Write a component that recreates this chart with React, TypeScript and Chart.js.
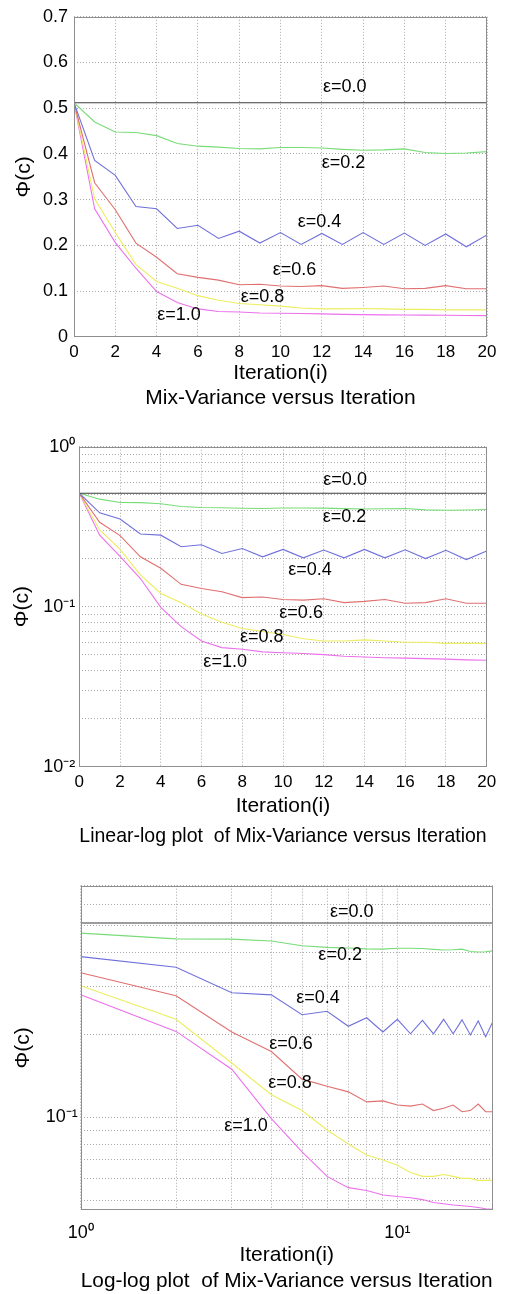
import React, { useEffect, useRef } from "react";
import { Chart, registerables } from "chart.js";

Chart.register(...registerables);

const FONT = "'Liberation Sans', Arial, Helvetica, sans-serif";
Chart.defaults.font.family = FONT;
Chart.defaults.color = "#000";

// ---------- data ----------
const iterations = [0, 1, 2, 3, 4, 5, 6, 7, 8, 9, 10, 11, 12, 13, 14, 15, 16, 17, 18, 19, 20];

const phiEps00 = [0.512, 0.512, 0.512, 0.512, 0.512, 0.512, 0.512, 0.512, 0.512, 0.512, 0.512, 0.512, 0.512, 0.512, 0.512, 0.512, 0.512, 0.512, 0.512, 0.512, 0.512];
const phiEps02 = [0.512, 0.47, 0.448, 0.447, 0.44, 0.423, 0.417, 0.415, 0.412, 0.411, 0.414, 0.414, 0.413, 0.41, 0.408, 0.409, 0.411, 0.403, 0.401, 0.402, 0.405];
const phiEps04 = [0.512, 0.386, 0.353, 0.285, 0.28, 0.237, 0.244, 0.215, 0.231, 0.205, 0.228, 0.202, 0.226, 0.202, 0.228, 0.202, 0.227, 0.2, 0.225, 0.197, 0.223];
const phiEps06 = [0.512, 0.337, 0.278, 0.205, 0.174, 0.138, 0.13, 0.124, 0.114, 0.115, 0.111, 0.11, 0.112, 0.106, 0.108, 0.111, 0.105, 0.106, 0.112, 0.105, 0.105];
const phiEps08 = [0.512, 0.302, 0.228, 0.158, 0.121, 0.106, 0.09, 0.08, 0.073, 0.07, 0.067, 0.063, 0.061, 0.061, 0.062, 0.061, 0.06, 0.06, 0.059, 0.059, 0.059];
const phiEps10 = [0.512, 0.28, 0.206, 0.15, 0.099, 0.075, 0.061, 0.0555, 0.0542, 0.0522, 0.0515, 0.051, 0.0502, 0.049, 0.0485, 0.048, 0.0477, 0.0474, 0.047, 0.0465, 0.0463];

const seriesLabels = ["ε=0.0", "ε=0.2", "ε=0.4", "ε=0.6", "ε=0.8", "ε=1.0"];
const seriesColors = ["#3c3c3c", "#78dc78", "#7070dc", "#e07070", "#eded60", "#ec70ec"];

// curve label anchors (left edge, vertical centre) in data units
const linLabelX = [12.06, 12.0, 10.83, 9.62, 8.07, 4.03];
const linLabelY = [0.546, 0.38, 0.252, 0.146, 0.088, 0.047];
const semilogLabelX = [11.98, 11.95, 10.26, 9.82, 7.89, 6.09];
const semilogLabelY = [0.619, 0.362, 0.1696, 0.091, 0.0647, 0.0453];
const loglogLabelX = [6.13, 5.63, 4.79, 3.94, 3.91, 2.84];
const loglogLabelY = [0.562, 0.39, 0.2717, 0.186, 0.134, 0.0933];

// tick values
const semilogYTicks = [0.01, 0.02, 0.03, 0.04, 0.05, 0.06, 0.07, 0.08, 0.09, 0.1, 0.2, 0.3, 0.4, 0.5, 0.6, 0.7, 0.8, 0.9, 1];
const loglogYTicks = [0.05, 0.06, 0.07, 0.08, 0.09, 0.1, 0.2, 0.3, 0.4, 0.5, 0.6, 0.7];
const loglogXTicks = [1, 2, 3, 4, 5, 6, 7, 8, 9, 10, 20];
const powerLabels: Record<string, string> = { "1": "10⁰", "10": "10¹", "0.1": "10⁻¹", "0.01": "10⁻²" };

const captions = [
  "Mix-Variance versus Iteration",
  "Linear-log plot  of Mix-Variance versus Iteration",
  "Log-log plot  of Mix-Variance versus Iteration",
];

const allSeries = [phiEps00, phiEps02, phiEps04, phiEps06, phiEps08, phiEps10];

// ---------- helpers ----------
const GRID = "#a9a9a9";
const DASH = [1, 2];

function datasets(from: number) {
  return allSeries.map((s, k) => ({
    label: seriesLabels[k],
    data: iterations.slice(from).map((x, i) => ({ x, y: s[i + from] })),
    borderColor: seriesColors[k],
    backgroundColor: seriesColors[k],
    borderWidth: 1.1,
    pointRadius: 0,
    tension: 0,
    fill: false,
  }));
}

const boxPlugin = {
  id: "axesBox",
  afterDraw(chart: any) {
    const { ctx, chartArea } = chart;
    const l = Math.round(chartArea.left) + 0.5;
    const t = Math.round(chartArea.top) + 0.5;
    const r = Math.round(chartArea.right) - 0.5;
    const b = Math.round(chartArea.bottom) - 0.5;
    ctx.save();
    ctx.strokeStyle = "#8e8e8e";
    ctx.lineWidth = 1;
    ctx.strokeRect(l, t, r - l, b - t);
    ctx.restore();
  },
};

function labelPlugin(xs: number[], ys: number[]) {
  return {
    id: "curveLabels",
    afterDatasetsDraw(chart: any) {
      const { ctx, scales } = chart;
      ctx.save();
      ctx.font = `18px ${FONT}`;
      ctx.fillStyle = "#000";
      ctx.textAlign = "left";
      ctx.textBaseline = "middle";
      seriesLabels.forEach((txt, k) => {
        const px = scales.x.getPixelForValue(xs[k]);
        const py = scales.y.getPixelForValue(ys[k]);
        ctx.fillText(txt, px, py);
      });
      ctx.restore();
    },
  };
}

function baseOptions(p: {
  caption: string;
  captionPadBottom: number;
  padTop: number;
  padRight: number;
}) {
  return {
    animation: false,
    responsive: false,
    events: [],
    layout: { padding: { top: p.padTop, right: p.padRight, bottom: 0, left: 0 } },
    plugins: {
      legend: { display: false },
      tooltip: { enabled: false },
      title: {
        display: true,
        position: "bottom",
        fullSize: false,
        text: p.caption,
        color: "#000",
        font: { size: 21, weight: "normal", family: FONT },
        padding: { top: 0, bottom: p.captionPadBottom },
      },
    },
  };
}

function xTitle(padBottom: number) {
  return {
    display: true,
    text: "Iteration(i)",
    color: "#000",
    font: { size: 21, family: FONT },
    padding: { top: 0, bottom: padBottom },
  };
}

function yTitle(padTop: number) {
  return {
    display: true,
    text: "Φ(c)",
    color: "#000",
    font: { size: 21, family: FONT },
    padding: { top: padTop, bottom: 0 },
  };
}

const gridOpts = { color: GRID, lineWidth: 1, drawTicks: false };
const borderOpts = { display: false, dash: DASH };

function powerLabel(v: number) {
  const key = String(Number(v.toPrecision(6)));
  return powerLabels[key] ?? "";
}

function buildLinear() {
  return {
    type: "line",
    data: { datasets: datasets(0) },
    options: {
      ...baseOptions({ caption: captions[0], captionPadBottom: 10, padTop: 13, padRight: 23 }),
      scales: {
        x: {
          type: "linear",
          min: 0,
          max: 20,
          grid: gridOpts,
          border: borderOpts,
          ticks: { stepSize: 2, padding: 5, font: { size: 17 }, color: "#000", maxRotation: 0, autoSkip: false },
          title: xTitle(0),
          afterFit: (s: any) => {
            s.height = 49;
          },
        },
        y: {
          type: "linear",
          min: 0,
          max: 0.7,
          grid: gridOpts,
          border: borderOpts,
          ticks: {
            stepSize: 0.1,
            padding: 6,
            font: { size: 18 },
            color: "#000",
            autoSkip: false,
            callback: (v: number) => String(Number(v.toFixed(1))),
          },
          title: yTitle(12),
          afterFit: (s: any) => {
            s.width = 74;
          },
        },
      },
    },
    plugins: [boxPlugin, labelPlugin(linLabelX, linLabelY)],
  };
}

function buildSemilog() {
  return {
    type: "line",
    data: { datasets: datasets(0) },
    options: {
      ...baseOptions({ caption: captions[1], captionPadBottom: 1.4, padTop: 21.7, padRight: 23.3 }),
      scales: {
        x: {
          type: "linear",
          min: 0,
          max: 20,
          grid: gridOpts,
          border: borderOpts,
          ticks: { stepSize: 2, padding: 5, font: { size: 17 }, color: "#000", maxRotation: 0, autoSkip: false },
          title: xTitle(4.8),
          afterFit: (s: any) => {
            s.height = 56.7;
          },
        },
        y: {
          type: "logarithmic",
          min: 0.01,
          max: 1,
          grid: gridOpts,
          border: borderOpts,
          afterBuildTicks: (s: any) => {
            s.ticks = semilogYTicks.map((value) => ({ value }));
          },
          ticks: { padding: 4, font: { size: 18 }, color: "#000", autoSkip: false, callback: (v: number) => powerLabel(v) },
          title: yTitle(9.4),
          afterFit: (s: any) => {
            s.width = 79.3;
          },
        },
      },
    },
    plugins: [boxPlugin, labelPlugin(semilogLabelX, semilogLabelY)],
  };
}

function buildLoglog() {
  return {
    type: "line",
    data: { datasets: datasets(1) },
    options: {
      ...baseOptions({ caption: captions[2], captionPadBottom: 0, padTop: 35.7, padRight: 17.3 }),
      scales: {
        x: {
          type: "logarithmic",
          min: 1,
          max: 20,
          grid: gridOpts,
          border: borderOpts,
          afterBuildTicks: (s: any) => {
            s.ticks = loglogXTicks.map((value) => ({ value }));
          },
          ticks: { padding: 12, font: { size: 18 }, color: "#000", maxRotation: 0, autoSkip: false, callback: (v: number) => powerLabel(v) },
          title: xTitle(1.2),
          afterFit: (s: any) => {
            s.height = 58.8;
          },
        },
        y: {
          type: "logarithmic",
          min: 0.046,
          max: 0.7,
          grid: gridOpts,
          border: borderOpts,
          afterBuildTicks: (s: any) => {
            s.ticks = loglogYTicks.map((value) => ({ value }));
          },
          ticks: { padding: 3, font: { size: 18 }, color: "#000", autoSkip: false, callback: (v: number) => powerLabel(v) },
          title: yTitle(11),
          afterFit: (s: any) => {
            s.width = 80.7;
          },
        },
      },
    },
    plugins: [boxPlugin, labelPlugin(loglogLabelX, loglogLabelY)],
  };
}

function ChartCanvas({ top, height, build }: { top: number; height: number; build: () => any }) {
  const ref = useRef<HTMLCanvasElement>(null);
  useEffect(() => {
    const chart = new Chart(ref.current as HTMLCanvasElement, build());
    return () => chart.destroy();
  }, []);
  return (
    <canvas
      ref={ref}
      width={510}
      height={height}
      style={{ position: "absolute", left: 0, top, width: 510, height, display: "block" }}
    />
  );
}

export default function App() {
  return (
    <div style={{ position: "absolute", left: 0, top: 0, width: 510, height: 1294, background: "#fff" }}>
      <ChartCanvas top={0} height={421} build={buildLinear} />
      <ChartCanvas top={425} height={425} build={buildSemilog} />
      <ChartCanvas top={850} height={444} build={buildLoglog} />
    </div>
  );
}
